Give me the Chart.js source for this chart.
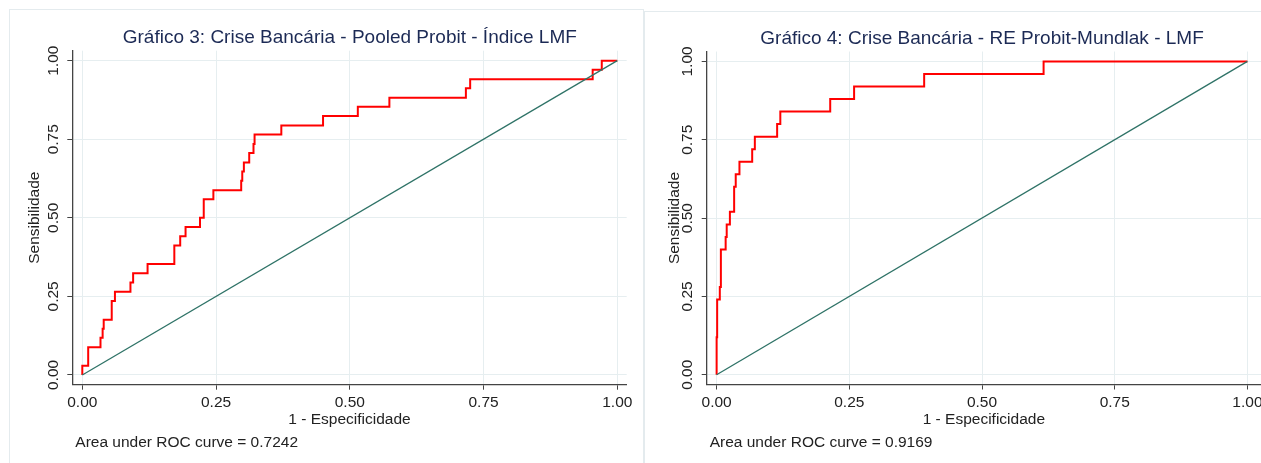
<!DOCTYPE html>
<html>
<head>
<meta charset="utf-8">
<script src="https://cdn.jsdelivr.net/npm/chart.js@4.4.1/dist/chart.umd.min.js"></script>
<style>
  body { margin: 0; background: #fff; width: 1261px; height: 463px; overflow: hidden; position: relative; }
  .panel { position: absolute; border: 1px solid #e4ebee; }
  .wrap { position: absolute; top: 0; height: 463px; }
</style>
</head>
<body>
<div class="panel" style="left:9px;top:9px;width:633px;height:470px"></div>
<div class="panel" style="left:644px;top:11px;width:640px;height:470px"></div>
<div class="wrap" style="left:0;width:640px"><canvas id="roc3"></canvas></div>
<div class="wrap" style="left:640px;width:621px"><canvas id="roc4"></canvas></div>

<script>
// ROC points (1 - especificidade, sensibilidade)
const fprPooled = [0, 0, 0.011, 0.034, 0.038, 0.040, 0.055, 0.061, 0.090, 0.095, 0.122, 0.172, 0.183, 0.193, 0.220, 0.227,
  0.245, 0.297, 0.299, 0.302, 0.312, 0.320, 0.322, 0.372, 0.450, 0.515, 0.574, 0.717, 0.725, 0.954, 0.971, 1];
const tprPooled = [0, 0.029, 0.088, 0.118, 0.147, 0.176, 0.235, 0.265, 0.294, 0.324, 0.353, 0.412, 0.441, 0.471, 0.500, 0.559,
  0.588, 0.618, 0.647, 0.676, 0.706, 0.735, 0.765, 0.794, 0.824, 0.853, 0.882, 0.912, 0.941, 0.971, 1.000, 1.000];

const fprMundlak = [0, 0, 0.001, 0.006, 0.008, 0.017, 0.019, 0.025, 0.033, 0.036, 0.043, 0.067, 0.072, 0.114, 0.120,
  0.214, 0.259, 0.391, 0.616, 1];
const tprMundlak = [0, 0.12, 0.24, 0.28, 0.40, 0.44, 0.48, 0.52, 0.60, 0.64, 0.68, 0.72, 0.76, 0.80, 0.84,
  0.88, 0.92, 0.96, 1.00, 1.00];

// reference line
const refX = [0, 1];
const refY = [0, 1];

const xTicks = [0, 0.25, 0.5, 0.75, 1];
const yTicks = [0, 0.25, 0.5, 0.75, 1];

const titles = [
  'Gráfico 3: Crise Bancária - Pooled Probit - Índice LMF',
  'Gráfico 4: Crise Bancária - RE Probit-Mundlak - LMF'
];
const aucNotes = ['Area under ROC curve = 0.7242', 'Area under ROC curve = 0.9169'];

const FONT = '"Liberation Sans", Arial, Helvetica, sans-serif';
const INK = '#222';
const AXIS = '#444';
const GRID = '#e6eef0';

const toXY = (xs, ys) => xs.map((v, i) => ({ x: v, y: ys[i] }));

// title, rotated y labels and the AUC note
const rocText = {
  id: 'rocText',
  afterDraw(chart, args, opts) {
    const { ctx, chartArea, scales } = chart;
    ctx.save();
    ctx.fillStyle = '#1c2a55';
    ctx.font = `19px ${FONT}`;
    ctx.textAlign = 'center';
    ctx.textBaseline = 'alphabetic';
    ctx.fillText(opts.title, scales.x.getPixelForValue(0.5), chartArea.top - 7.5);

    ctx.fillStyle = INK;
    ctx.font = `15.5px ${FONT}`;
    yTicks.forEach((v) => {
      ctx.save();
      ctx.translate(chartArea.left - 19, scales.y.getPixelForValue(v));
      ctx.rotate(-Math.PI / 2);
      ctx.textAlign = 'center';
      ctx.textBaseline = 'middle';
      ctx.fillText(v.toFixed(2), 0, 0);
      ctx.restore();
    });

    ctx.textAlign = 'left';
    ctx.textBaseline = 'alphabetic';
    ctx.fillText(opts.note, chartArea.left + 3, 446.5);
    ctx.restore();
  }
};

function makeRoc(canvasId, fpr, tpr, idx, geo) {
  const canvas = document.getElementById(canvasId);
  return new Chart(canvas, {
    type: 'line',
    data: {
      datasets: [
        {
          data: toXY(refX, refY),
          borderColor: '#2f7367',
          borderWidth: 1.3,
          pointRadius: 0
        },
        {
          data: toXY(fpr, tpr),
          borderColor: '#ff0000',
          borderWidth: 2,
          pointRadius: 0,
          stepped: 'before'
        }
      ]
    },
    options: {
      responsive: true,
      maintainAspectRatio: false,
      animation: false,
      layout: { padding: { top: geo.top, right: geo.right, left: 0, bottom: 0 } },
      plugins: {
        legend: { display: false },
        tooltip: { enabled: false },
        rocText: { title: titles[idx], note: aucNotes[idx] }
      },
      scales: {
        x: {
          type: 'linear',
          min: -0.0187,
          max: geo.xMax,
          afterBuildTicks: (s) => { s.ticks = xTicks.map((v) => ({ value: v })); },
          afterFit: (s) => {
            s.height = 463 - geo.bottom;
            // let the last label run past the plot edge, as in the original
            s.paddingLeft = 0;
            s.paddingRight = 0;
          },
          grid: { color: GRID, tickColor: AXIS, tickLength: 5 },
          border: { color: AXIS, width: 1.3 },
          ticks: {
            padding: 4,
            color: INK,
            font: { family: FONT, size: 15.5 },
            maxRotation: 0,
            callback: (v) => Number(v).toFixed(2)
          },
          title: {
            display: true,
            text: '1 - Especificidade',
            color: INK,
            font: { family: FONT, size: 15.5 },
            padding: { top: 0, bottom: 34 }
          }
        },
        y: {
          type: 'linear',
          min: -0.031,
          max: 1.0317,
          afterBuildTicks: (s) => { s.ticks = yTicks.map((v) => ({ value: v })); },
          afterFit: (s) => { s.width = geo.left; },
          grid: { color: GRID, tickColor: AXIS, tickLength: 5 },
          border: { color: AXIS, width: 1.3 },
          ticks: { display: false },
          title: {
            display: true,
            text: 'Sensibilidade',
            color: INK,
            font: { family: FONT, size: 15.5 },
            padding: { top: 25, bottom: 0 }
          }
        }
      }
    },
    plugins: [rocText]
  });
}

makeRoc('roc3', fprPooled, tprPooled, 0, { left: 72.3, top: 50.7, right: 13.3, bottom: 384.7, xMax: 1.0176 });
makeRoc('roc4', fprMundlak, tprMundlak, 1, { left: 66.7, top: 51.5, right: 0, bottom: 384.5, xMax: 1.0256 });
</script>
</body>
</html>
